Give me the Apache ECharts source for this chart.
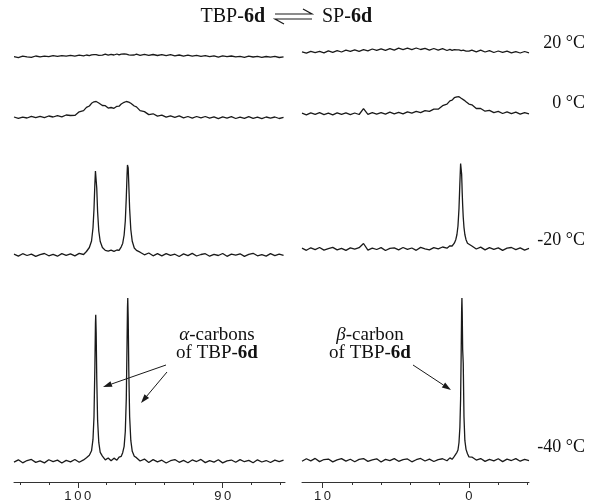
<!DOCTYPE html>
<html lang="en">
<head>
    <meta charset="UTF-8">
    <title>TBP-6d / SP-6d</title>
    <style>
        html, body { margin: 0; padding: 0; background: #fff; }
        #main { width: 591px; height: 503px; }
    </style>
    <script src="https://cdn.jsdelivr.net/npm/echarts@6/dist/echarts.min.js"></script>
</head>
<body>
<div id="main"></div>
<script type="text/javascript">
    // chemical shift (ppm) sampling, left panel (alpha carbons) and right panel (beta carbon)
    var ppmLeft = [104.4,104.1,103.8,103.5,103.2,102.9,102.6,102.3,102.0,101.7,101.4,101.1,100.8,100.5,100.2,99.9,99.6,
        99.4,99.2,99.05,98.95,98.88,98.82,98.78,98.76,98.73,98.69,98.63,98.55,98.45,98.3,
        98.1,97.9,97.7,97.5,97.3,97.15,97.0,
        96.9,96.8,96.72,96.65,96.6,96.57,96.55,96.52,96.48,96.42,96.34,96.24,96.1,95.95,
        95.7,95.4,95.1,94.8,94.5,94.2,93.9,93.6,93.3,93.0,92.7,92.4,92.1,91.8,91.5,91.2,90.9,90.6,90.3,90.0,
        89.7,89.4,89.1,88.8,88.5,88.2,87.9,87.6,87.3,87.0,86.7,86.4,86.1,85.8];
    var ppmRight = [11.4,11.1,10.8,10.5,10.2,9.9,9.6,9.3,9.0,8.7,8.4,8.1,7.8,7.5,7.2,6.9,6.6,6.3,6.0,5.7,5.4,5.1,
        4.8,4.5,4.2,3.9,3.6,3.3,3.0,2.7,2.4,2.1,1.8,1.5,
        1.3,1.15,1.0,0.9,0.82,0.75,0.68,0.62,0.57,0.53,0.5,0.48,0.46,0.43,0.39,0.34,0.28,0.2,0.1,0.0,
        -0.2,-0.5,-0.8,-1.1,-1.4,-1.7,-2.0,-2.3,-2.6,-2.9,-3.2,-3.5,-3.8,-4.1];

    // intensities (arbitrary units)
    var left20 = [0.3,-0.6,0.8,0.1,-0.4,1.0,0.2,0.9,0.3,1.3,0.6,1.4,0.8,1.6,0.9,1.8,1.1,
        2.0,1.3,2.1,1.5,2.3,1.6,2.2,1.4,2.4,1.7,2.5,1.6,2.6,1.8,
        2.8,1.9,2.7,2.0,3.0,2.1,2.9,
        2.2,3.1,2.0,2.8,1.9,2.9,2.2,3.0,2.1,2.7,1.8,2.9,2.0,2.8,
        1.7,2.6,1.6,2.5,1.5,2.4,1.4,2.3,1.2,2.0,0.9,1.8,0.8,1.6,0.6,1.3,0.4,1.2,-0.2,1.1,
        0.3,1.0,0.1,0.7,-0.3,0.8,0.0,0.6,-0.4,0.5,-0.2,0.6,-0.5,0.2];
    var left0 = [1.0,-0.4,0.9,0.0,1.7,0.3,1.6,0.3,2.0,1.0,2.3,1.2,3.0,2.5,2.6,6.2,7.4,
        10.6,12.0,14.7,14.9,16.2,15.7,16.4,15.9,16.5,15.8,16.1,15.0,15.0,12.5,
        12.3,9.9,10.5,9.7,11.7,11.8,14.0,
        14.1,15.7,15.5,16.5,15.9,16.5,16.0,16.6,15.9,16.1,14.8,14.6,12.0,11.1,
        7.4,6.4,3.4,4.2,1.9,2.9,0.8,2.2,0.7,2.1,0.2,1.5,-0.2,1.5,0.1,1.5,-0.2,1.1,-0.6,1.1,
        -0.1,1.3,-0.5,0.9,-0.4,1.3,-0.3,0.8,-0.6,1.0,-0.2,1.0,-0.5,0.6];
    var leftM20 = [0.8,-1.1,1.3,-0.5,0.9,-1.4,0.4,1.5,-0.8,0.6,-1.2,1.4,-0.3,1.1,-0.9,1.6,0.5,
        3.5,7.5,14,27,46,71,84,86,82,67,43,24,13.5,7.5,
        4.6,3.9,4.8,3.6,5.0,4.6,8.2,
        11.6,20,34,58,80,90,92,87,71,46,25.5,13.7,7,4.6,
        2.8,0.2,2.0,-0.8,1.3,-0.9,1.4,-0.4,0.8,-1.5,1.1,-0.6,1.6,-1.0,0.5,1.3,-1.2,0.7,-0.5,1.5,
        -1.3,0.9,-0.2,1.2,-1.4,0.6,1.7,-0.8,0.3,-1.1,1.4,-0.6,0.9,-0.3];
    var leftM40 = [-0.9,1.4,-1.6,0.7,1.8,-1.2,0.3,-1.7,1.5,-0.4,1.1,-1.8,0.9,-0.6,1.7,-1.0,1.3,
        3.5,6.0,10.5,22,45,95,139,148,130,84,41,19,9,5.2,
        1.4,3.3,0.4,3.1,1.0,4.2,5.0,
        8.6,15,30,64,119,155,165,145,93,45,21,10,5,3.6,
        0.2,2.2,-1.3,1.6,-0.7,1.0,-1.8,0.5,1.7,-1.1,0.8,-1.5,1.3,-0.3,1.8,-1.4,0.6,-0.9,1.5,-1.7,
        0.4,1.2,-1.0,1.6,-0.5,0.9,-1.6,1.4,-0.8,0.7,-1.3,1.1,-0.4,1.0];

    var right20 = [1.1,-0.2,1.6,0.3,1.6,0.1,2.2,0.7,2.3,1.0,2.8,1.6,3.1,1.6,3.3,2.2,4.0,2.6,4.2,2.7,
        4.4,2.8,4.8,3.4,4.8,3.3,5.0,3.5,4.6,2.9,4.5,2.9,4.3,2.5,
        3.6,2.6,3.4,2.6,3.2,2.5,3.1,2.3,3.0,2.4,3.0,2.4,2.9,2.2,2.8,2.2,2.9,1.9,2.9,1.8,
        2.9,1.2,2.8,1.0,2.4,0.5,2.0,0.6,1.9,0.1,1.4,0.0,1.5,0.2];
    var right0 = [0.8,-0.9,1.1,-0.4,1.3,-0.6,0.8,-0.9,1.2,-0.3,1.2,-0.6,1.0,-0.5,5.4,-0.3,1.4,-0.1,1.4,-0.2,
        1.8,0.1,1.7,0.1,2.2,0.9,2.6,1.4,3.4,2.7,4.9,4.8,8.3,9.8,
        13.2,13.9,16.3,16.2,17.2,16.7,17.3,16.4,16.7,15.7,16.2,15.4,15.9,14.9,15.2,13.9,14.1,12.2,12.1,9.9,
        9.2,5.5,5.5,2.8,3.7,1.4,2.7,0.5,2.1,0.4,1.9,-0.1,1.4,0.1];
    var rightM20 = [0.9,-1.3,1.2,-0.6,1.5,-1.1,0.4,1.6,-0.9,0.7,-1.4,1.1,-0.2,1.3,5.5,-1.2,0.8,-0.5,1.4,-1.5,
        0.6,1.2,-0.8,1.5,-0.4,1.0,-1.3,1.6,0.2,-0.9,1.4,0.1,2.0,0.8,
        3.2,3.0,5.8,9.3,14.5,23,40.5,66,85.5,85.5,75,66,56,44,31.7,21.7,14.5,9.3,5.8,4.0,
        3.0,0.0,1.9,-0.9,1.4,-0.3,1.1,-1.4,0.8,1.5,-0.7,1.2,-1.1,0.6];
    var rightM40 = [-1.0,1.5,-0.6,1.8,-1.4,0.7,1.2,-1.7,0.4,1.6,-0.9,1.0,-1.5,0.8,1.7,-1.2,0.3,1.4,-1.8,0.9,
        -0.4,1.6,-1.1,0.6,1.3,-1.6,0.5,1.8,-0.8,1.1,-1.3,0.7,1.5,-0.5,
        2.4,0.9,4.0,5.5,8.0,10.3,17.9,33,62,109,152,164,150,112,98,44,20,11,6.5,3.4,
        3.2,0.2,1.7,-1.2,0.9,-0.6,1.5,-1.4,1.1,-0.3,1.6,-1.0,0.8,-0.5];

    var temps = ['20 °C', '0 °C', '-20 °C', '-40 °C'];
    var leftTicks = [104, 102, 100, 98, 96, 94, 92, 90, 88, 86];
    var leftLabels = [100, 90];
    var rightTicks = [10, 8, 6, 4, 2, 0, -2, -4];
    var rightLabels = [10, 0];

    var leftRows = [left20, left0, leftM20, leftM40];
    var rightRows = [right20, right0, rightM20, rightM40];

    // layout: pixel baseline of each trace, headroom above it
    var rowLayout = [
        {baseL: 57,  baseR: 53,  max: 8,   minL: -8,  minR: -8},
        {baseL: 118, baseR: 114, max: 22,  minL: -8,  minR: -8},
        {baseL: 255, baseR: 249, max: 100, minL: -8,  minR: -8},
        {baseL: 463, baseR: 462, max: 172, minL: -21, minR: -22}
    ];
    var colLayout = [
        {left: 14,  width: 271, min: 85.7, max: 104.4, ppm: ppmLeft,  rows: leftRows,  ticks: leftTicks,  labels: leftLabels},
        {left: 302, width: 227, min: -4.1, max: 11.4,  ppm: ppmRight, rows: rightRows, ticks: rightTicks, labels: rightLabels}
    ];

    var serif = '"Liberation Serif", "Times New Roman", serif';
    var ink = '#1a1a1a';

    var grids = [], xAxes = [], yAxes = [], series = [];
    colLayout.forEach(function (col, c) {
        rowLayout.forEach(function (row, r) {
            var base = c === 0 ? row.baseL : row.baseR;
            var min = c === 0 ? row.minL : row.minR;
            var gi = grids.length;
            grids.push({left: col.left, width: col.width, top: base - row.max, height: row.max - min});
            yAxes.push({type: 'value', gridIndex: gi, min: min, max: row.max, show: false});
            var bottom = r === rowLayout.length - 1;
            var xi = xAxes.length;
            xAxes.push({
                type: 'value', gridIndex: gi, inverse: true, min: col.min, max: col.max,
                position: 'bottom', show: bottom,
                splitLine: {show: false},
                axisLine: {show: true, onZero: false, lineStyle: {color: '#333', width: 1}},
                axisTick: {show: true, customValues: col.ticks, length: 3, lineStyle: {color: '#333'}},
                axisLabel: {show: false}
            });
            if (bottom) {
                xAxes.push({
                    type: 'value', gridIndex: gi, inverse: true, min: col.min, max: col.max,
                    position: 'bottom',
                    splitLine: {show: false},
                    axisLine: {show: false, onZero: false},
                    axisTick: {show: true, customValues: col.labels, length: 6, lineStyle: {color: '#333'}},
                    axisLabel: {
                        show: true, customValues: col.labels, margin: 8,
                        fontFamily: '"Liberation Sans", Arial, sans-serif', fontSize: 13, color: '#222',
                        formatter: function (v) { return String(v).split('').join('\u2009'); }
                    }
                });
            }
            var vals = col.rows[r];
            series.push({
                type: 'line', xAxisIndex: xi, yAxisIndex: gi,
                showSymbol: false, symbol: 'none', animation: false, silent: true,
                lineStyle: {color: ink, width: 1.3},
                data: col.ppm.map(function (p, i) { return [p, vals[i]]; })
            });
        });
    });

    // arrows for the annotations
    function arrow(x1, y1, x2, y2) {
        var dx = x2 - x1, dy = y2 - y1, len = Math.sqrt(dx * dx + dy * dy);
        var ux = dx / len, uy = dy / len, hl = 9, hw = 3;
        var bx = x2 - ux * hl, by = y2 - uy * hl;
        return [
            {type: 'line', shape: {x1: x1, y1: y1, x2: bx, y2: by}, style: {stroke: ink, lineWidth: 1}},
            {type: 'polygon', shape: {points: [[x2, y2], [bx - uy * hw, by + ux * hw], [bx + uy * hw, by - ux * hw]]},
                style: {fill: ink}}
        ];
    }

    var textY = [43, 103, 240, 447];
    var graphic = [];
    temps.forEach(function (t, i) {
        graphic.push({type: 'text', style: {text: t, x: 585, y: textY[i], align: 'right', verticalAlign: 'middle',
            fontFamily: serif, fontSize: 18, fill: '#111'}});
    });
    var rich = {
        n: {fontFamily: serif, fontSize: 20, fill: '#111'},
        b: {fontFamily: serif, fontSize: 20, fontWeight: 'bold', fill: '#111'},
        an: {fontFamily: serif, fontSize: 19, fill: '#111', lineHeight: 18},
        ai: {fontFamily: serif, fontSize: 19, fontStyle: 'italic', fill: '#111', lineHeight: 18},
        ab: {fontFamily: serif, fontSize: 19, fontWeight: 'bold', fill: '#111', lineHeight: 18}
    };
    graphic.push({type: 'text', style: {text: '{n|TBP-}{b|6d}', rich: rich, x: 265, y: 17, align: 'right', verticalAlign: 'middle'}});
    graphic.push({type: 'text', style: {text: '{n|SP-}{b|6d}', rich: rich, x: 322, y: 17, align: 'left', verticalAlign: 'middle'}});
    // equilibrium harpoons
    graphic.push({type: 'polyline', shape: {points: [[275, 14], [312, 14], [303, 9]]}, style: {stroke: ink, lineWidth: 1.2, fill: null}});
    graphic.push({type: 'polyline', shape: {points: [[312, 19], [275, 19], [284, 24]]}, style: {stroke: ink, lineWidth: 1.2, fill: null}});

    graphic.push({type: 'text', style: {text: '{ai|α}{an|-carbons}\n{an|of TBP-}{ab|6d}', rich: rich, x: 217, y: 344,
        align: 'center', verticalAlign: 'middle'}});
    graphic.push({type: 'text', style: {text: '{ai|β}{an|-carbon}\n{an|of TBP-}{ab|6d}', rich: rich, x: 370, y: 344,
        align: 'center', verticalAlign: 'middle'}});
    graphic = graphic.concat(arrow(166, 365, 103, 387), arrow(167, 372, 141, 403), arrow(413, 365, 451, 390));

    var myChart = echarts.init(document.getElementById('main'));
    myChart.setOption({
        backgroundColor: '#fff',
        animation: false,
        grid: grids,
        xAxis: xAxes,
        yAxis: yAxes,
        series: series,
        graphic: graphic
    });
</script>
</body>
</html>
